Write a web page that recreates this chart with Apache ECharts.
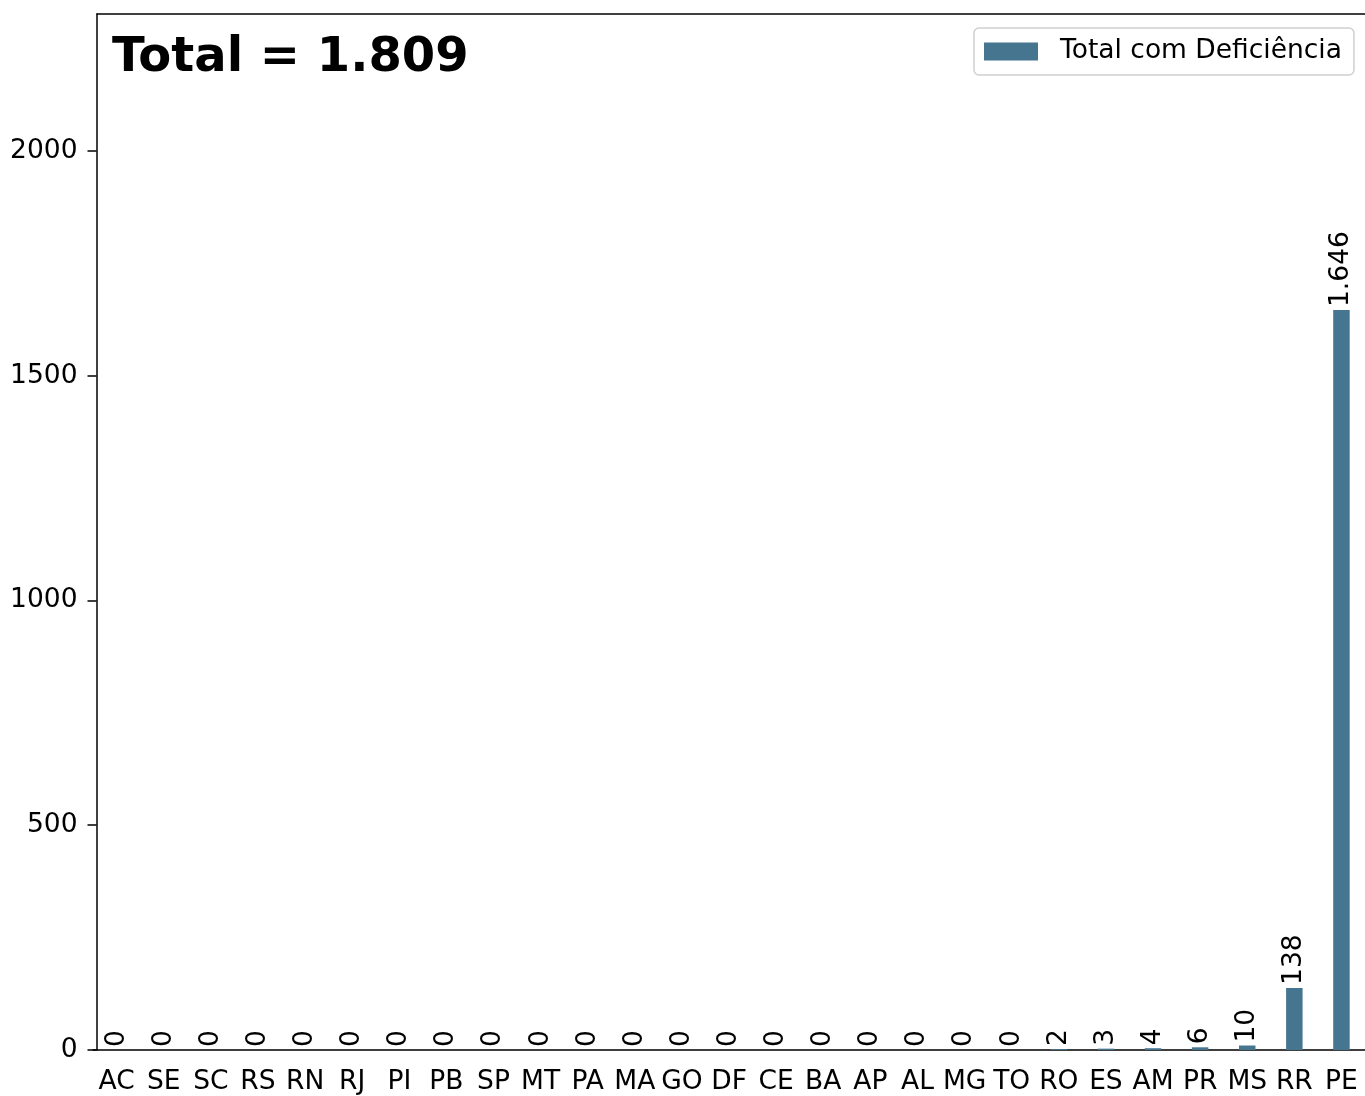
<!DOCTYPE html>
<html>
<head>
<meta charset="utf-8">
<script src="https://cdn.jsdelivr.net/npm/echarts@6/dist/echarts.min.js"></script>
<style>
html,body{margin:0;padding:0;background:#fff;}
#chart{width:1365px;height:1096px;}
</style>
</head>
<body>
<div id="chart"></div>
<script>
const categories = ['AC','SE','SC','RS','RN','RJ','PI','PB','SP','MT','PA','MA','GO','DF','CE','BA','AP','AL','MG','TO','RO','ES','AM','PR','MS','RR','PE'];
const values = [0,0,0,0,0,0,0,0,0,0,0,0,0,0,0,0,0,0,0,0,2,3,4,6,10,138,1646];
const yTicks = [0, 500, 1000, 1500, 2000];
const seriesName = 'Total com Deficiência';
const totalText = 'Total = 1.809';

function fmt(v){ return String(v).replace(/\B(?=(\d{3})+(?!\d))/g, '.'); }

const chart = echarts.init(document.getElementById('chart'), null, {renderer:'canvas'});
const FONT = 'DejaVu Sans';
const FS = 26.5;
chart.setOption({
  animation: false,
  backgroundColor: '#fff',
  textStyle: {fontFamily: FONT},
  title: {
    text: totalText,
    left: 107, top: 30,
    textStyle: {fontFamily: FONT, fontSize: 48, fontWeight: 'bold', color: '#000'}
  },
  legend: {
    data: [seriesName],
    left: 974, top: 28,
    padding: [10, 12, 10, 10],
    itemWidth: 54, itemHeight: 18, itemGap: 10,
    borderColor: '#d0d0d0', borderWidth: 1.5, borderRadius: 5,
    backgroundColor: '#fff',
    textStyle: {fontFamily: FONT, fontSize: FS, color: '#000', padding: [0,0,0,17]},
    icon: 'rect'
  },
  graphic: [{
    type: 'line', silent: true,
    shape: {x1: 96.5, y1: 14, x2: 1370, y2: 14},
    style: {stroke: '#000', lineWidth: 1.5}
  }],
  grid: {
    left: 93.1, top: 14, width: 1276.6, height: 1039,
    show: false,
    containLabel: false
  },
  xAxis: {
    type: 'category',
    data: categories,
    axisLine: {lineStyle: {color: '#000', width: 1.5}},
    axisTick: {alignWithLabel: true, length: 9, lineStyle: {color: '#000', width: 1.5}},
    axisLabel: {fontFamily: FONT, fontSize: FS, color: '#000', margin: 19, interval: 0}
  },
  yAxis: {
    type: 'value',
    min: 0, max: 2304.4, interval: 500,
    offset: -3.4,
    splitLine: {show: false},
    axisLine: {show: true, lineStyle: {color: '#000', width: 1.5}},
    axisTick: {show: true, length: 9, customValues: yTicks, lineStyle: {color: '#000', width: 1.5}},
    axisLabel: {fontFamily: FONT, fontSize: FS, color: '#000', margin: 19, customValues: yTicks,
      formatter: function(v){ return String(v); }}
  },
  series: [{
    name: seriesName,
    type: 'bar',
    data: values,
    barWidth: '35%',
    itemStyle: {color: '#46758f'},
    label: {
      show: true, position: 'top', rotate: 90, distance: 3,
      align: 'left', verticalAlign: 'middle',
      fontFamily: FONT, fontSize: FS, color: '#000',
      formatter: function(p){ return fmt(p.value); }
    }
  }]
});
</script>
</body>
</html>
